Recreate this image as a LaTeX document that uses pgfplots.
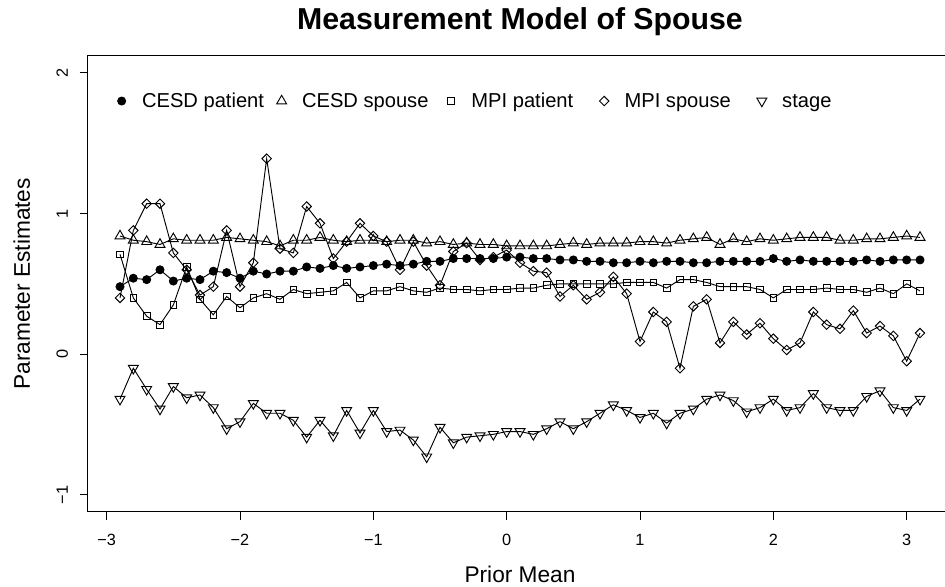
\documentclass[border=0pt]{standalone}
\usepackage{fontspec}
\setmainfont{Liberation Sans}
\usepackage{pgfplots}
\usepackage{pgfplotstable}
\pgfplotsset{compat=1.18}
\pgfplotstableread{
x cp cs mp ms st
-2.9 0.48 0.84 0.71 0.40 -0.32
-2.8 0.54 0.81 0.40 0.88 -0.10
-2.7 0.53 0.80 0.27 1.07 -0.25
-2.6 0.60 0.78 0.21 1.07 -0.39
-2.5 0.52 0.82 0.35 0.72 -0.23
-2.4 0.54 0.81 0.62 0.60 -0.31
-2.3 0.53 0.81 0.39 0.42 -0.29
-2.2 0.59 0.81 0.28 0.48 -0.38
-2.1 0.58 0.83 0.41 0.88 -0.53
-2.0 0.54 0.82 0.33 0.48 -0.48
-1.9 0.59 0.81 0.40 0.65 -0.35
-1.8 0.57 0.80 0.43 1.39 -0.42
-1.7 0.59 0.77 0.39 0.75 -0.42
-1.6 0.59 0.81 0.46 0.72 -0.47
-1.5 0.62 0.81 0.43 1.05 -0.59
-1.4 0.61 0.83 0.44 0.93 -0.47
-1.3 0.63 0.81 0.45 0.68 -0.58
-1.2 0.61 0.80 0.51 0.80 -0.40
-1.1 0.62 0.81 0.40 0.93 -0.56
-1.0 0.63 0.81 0.45 0.84 -0.40
-0.9 0.64 0.80 0.45 0.80 -0.55
-0.8 0.63 0.81 0.48 0.60 -0.54
-0.7 0.64 0.81 0.45 0.80 -0.61
-0.6 0.66 0.79 0.44 0.63 -0.73
-0.5 0.66 0.80 0.47 0.49 -0.52
-0.4 0.68 0.78 0.46 0.73 -0.63
-0.3 0.68 0.79 0.46 0.79 -0.59
-0.2 0.68 0.78 0.45 0.67 -0.58
-0.1 0.68 0.78 0.46 0.69 -0.57
0.0 0.69 0.77 0.46 0.74 -0.55
0.1 0.69 0.77 0.47 0.65 -0.55
0.2 0.68 0.77 0.47 0.59 -0.57
0.3 0.68 0.77 0.49 0.58 -0.53
0.4 0.67 0.78 0.50 0.41 -0.48
0.5 0.67 0.79 0.50 0.49 -0.53
0.6 0.66 0.78 0.50 0.39 -0.48
0.7 0.66 0.79 0.50 0.44 -0.42
0.8 0.65 0.79 0.50 0.55 -0.36
0.9 0.65 0.79 0.51 0.43 -0.40
1.0 0.66 0.80 0.51 0.09 -0.45
1.1 0.65 0.80 0.51 0.30 -0.42
1.2 0.66 0.79 0.47 0.23 -0.49
1.3 0.66 0.81 0.53 -0.10 -0.42
1.4 0.65 0.82 0.53 0.34 -0.39
1.5 0.65 0.83 0.51 0.39 -0.32
1.6 0.66 0.78 0.48 0.08 -0.29
1.7 0.66 0.82 0.48 0.23 -0.33
1.8 0.66 0.80 0.48 0.14 -0.41
1.9 0.66 0.82 0.46 0.22 -0.38
2.0 0.68 0.81 0.40 0.11 -0.32
2.1 0.66 0.82 0.46 0.03 -0.40
2.2 0.67 0.83 0.46 0.08 -0.38
2.3 0.66 0.83 0.46 0.30 -0.28
2.4 0.66 0.83 0.47 0.21 -0.38
2.5 0.66 0.81 0.46 0.18 -0.40
2.6 0.66 0.81 0.46 0.31 -0.40
2.7 0.67 0.82 0.44 0.15 -0.30
2.8 0.66 0.82 0.47 0.20 -0.26
2.9 0.67 0.83 0.43 0.13 -0.38
3.0 0.67 0.84 0.50 -0.05 -0.40
3.1 0.67 0.83 0.45 0.15 -0.32
}\data
\begin{document}
\begin{tikzpicture}
\useasboundingbox (-66pt,-55.725pt) rectangle (642.75pt,383.775pt);
\clip (-66pt,-55.725pt) rectangle (642.75pt,383.775pt);
\begin{axis}[
  scale only axis, width=648pt, height=341.775pt,
  xmin=-3.14, xmax=3.34, ymin=-1.12, ymax=2.12,
  axis line style={line width=0.75pt},
  xtick={-3,-2,-1,0,1,2,3}, xticklabels={−3,−2,−1,0,1,2,3},
  ytick={-1,0,1,2}, yticklabels={−1,0,1,2},
  tick align=outside, tick pos=left,
  major tick length=6.2pt,
  every tick/.style={line width=0.75pt, black},
  tick label style={font=\fontsize{12.2}{14}\selectfont, inner sep=0pt},
  xticklabel style={anchor=base},
  xticklabel shift=19.5pt,
  yticklabel style={rotate=90, anchor=base},
  yticklabel shift=8.8pt,
  title={Measurement Model of Spouse},
  every axis title/.style={at={(0.5,1)}, anchor=base, yshift=19.5pt, inner sep=0pt, font=\bfseries\fontsize{22.7}{27}\selectfont},
  xlabel={Prior Mean},
  every axis x label/.style={at={(0.5,0)}, anchor=base, yshift=-53pt, inner sep=0pt, font=\fontsize{17}{20}\selectfont},
  ylabel={Parameter Estimates},
  every axis y label/.style={at={(0,0.5)}, xshift=-43.5pt, rotate=90, anchor=base, inner sep=0pt, font=\fontsize{17}{20}\selectfont},
  legend columns=5,
  legend image code/.code={\path[draw=none] (-5pt,4.7pt) (5pt,4.7pt); \draw[#1, only marks] plot coordinates {(0pt,4.7pt)};},
  legend style={draw=none, fill=none, inner sep=0pt, outer sep=0pt,
    at={(0.03125,0.90125)}, anchor=west,
    font=\fontsize{15.1}{18}\selectfont,
    cells={anchor=base},
    nodes={inner sep=0pt},
    /tikz/every odd column/.append style={column sep=10.3pt},
    /tikz/column 2/.append style={column sep=8.2pt},
    /tikz/column 4/.append style={column sep=11.9pt},
    /tikz/column 6/.append style={column sep=18.2pt},
    /tikz/column 8/.append style={column sep=18.2pt}},
  legend entries={CESD patient, CESD spouse, MPI patient, MPI spouse, stage},
]
\addplot[black, line width=0.7pt, mark=*, mark size=3pt, mark options={solid, fill=black}] table[x=x,y=cp]{\data};
\addplot[black, line width=0.7pt, mark=triangle, mark size=4.3pt, mark options={solid}] table[x=x,y=cs]{\data};
\addplot[black, line width=0.7pt, mark=square, mark size=2.5pt, mark options={solid}] table[x=x,y=mp]{\data};
\addplot[black, line width=0.7pt, mark=square, mark size=2.5pt, mark options={solid, rotate=45}] table[x=x,y=ms]{\data};
\addplot[black, line width=0.7pt, mark=triangle, mark size=4.3pt, mark options={solid, rotate=180}] table[x=x,y=st]{\data};
\end{axis}
\end{tikzpicture}
\end{document}
